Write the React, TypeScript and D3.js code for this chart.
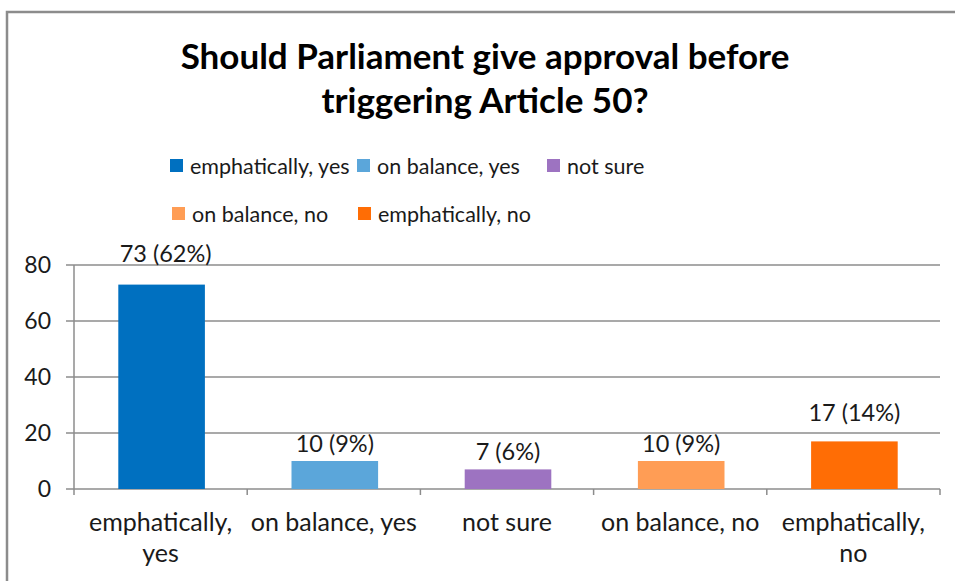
import React from "react";
import * as d3 from "d3";

const categories = ["emphatically, yes", "on balance, yes", "not sure", "on balance, no", "emphatically, no"];
const categoryLines = [["emphatically,", "yes"], ["on balance, yes"], ["not sure"], ["on balance, no"], ["emphatically,", "no"]];
const values = [73, 10, 7, 10, 17];
const dataLabels = ["73 (62%)", "10 (9%)", "7 (6%)", "10 (9%)", "17 (14%)"];
const colors = ["#0070C0", "#5BA6DA", "#9D73C1", "#FF9D55", "#FF6D05"];
const yTicks = [0, 20, 40, 60, 80];
const titleLines = ["Should Parliament give approval before", "triggering Article 50?"];
const labelGaps = [23, 9, 9, 9, 20];

const W = 955, H = 581;
const FONT = "Lato, 'Open Sans', sans-serif";

export default function App() {
  const x = d3.scaleBand<string>().domain(categories).range([74, 940]).paddingInner(0).paddingOuter(0);
  const y = d3.scaleLinear().domain([0, 80]).range([489, 265]);
  const bw = x.bandwidth() * 0.5;

  const legendRows = [
    [{ i: 0, x: 170 }, { i: 1, x: 357 }, { i: 2, x: 547 }],
    [{ i: 3, x: 172 }, { i: 4, x: 358 }],
  ];
  const legendY = [166, 214];

  return (
    <svg width={W} height={H} style={{ position: "absolute", left: 0, top: 0, fontFamily: FONT }}>
      <rect x={0} y={0} width={W} height={H} fill="#fff" />
      <path d={`M7,${H} V12 H${W}`} fill="none" stroke="#8c8c8c" strokeWidth={2.5} />
      {titleLines.map((t, i) => (
        <text key={i} x={485} y={69 + i * 44} textAnchor="middle" fontSize={35} fontWeight="bold" fill="#000">{t}</text>
      ))}
      {legendRows.map((row, r) => row.map(({ i, x: lx }) => (
        <g key={i}>
          <rect x={lx} y={legendY[r] - 7} width={13} height={13} fill={colors[i]} />
          <text x={lx + 20} y={legendY[r]} dy="0.35em" fontSize={21.5} fill="#1a1a1a">{categories[i]}</text>
        </g>
      )))}
      {yTicks.map((t) => (
        <g key={t}>
          <line x1={66} x2={940} y1={y(t)} y2={y(t)} stroke="#8c8c8c" strokeWidth={1.5} />
          <text x={51} y={y(t)} dy="0.35em" textAnchor="end" fontSize={23} fill="#1a1a1a">{t}</text>
        </g>
      ))}
      <line x1={74} x2={74} y1={265} y2={495} stroke="#8c8c8c" strokeWidth={1.5} />
      {categories.map((c) => (
        <line key={c} x1={(x(c) as number) + x.bandwidth()} x2={(x(c) as number) + x.bandwidth()} y1={489} y2={495} stroke="#8c8c8c" strokeWidth={1.5} />
      ))}
      {categories.map((c, i) => {
        const cx = (x(c) as number) + x.bandwidth() / 2;
        return (
          <g key={c}>
            <rect x={cx - bw / 2 + 1} y={y(values[i])} width={bw} height={489 - y(values[i])} fill={colors[i]} />
            <text x={cx + (i === 0 ? 5 : 1)} y={y(values[i]) - labelGaps[i]} textAnchor="middle" fontSize={23.5} fill="#1a1a1a">{dataLabels[i]}</text>
            {categoryLines[i].map((l, j) => (
              <text key={j} x={cx} y={531 + j * 31} textAnchor="middle" fontSize={25} fill="#1a1a1a">{l}</text>
            ))}
          </g>
        );
      })}
    </svg>
  );
}
